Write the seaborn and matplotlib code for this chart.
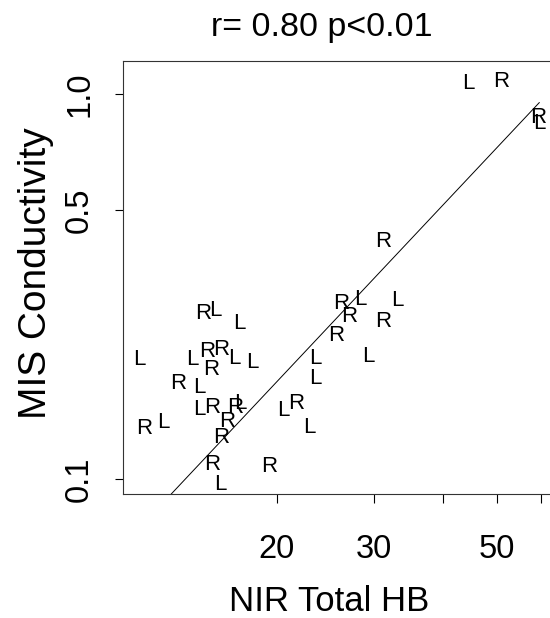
import numpy as np
import pandas as pd
import matplotlib
matplotlib.use("Agg")
import matplotlib.pyplot as plt
import seaborn as sns

# data (log-log scatter, letters mark side)
side = ["L", "R", "R", "L", "R", "R", "L", "R", "L", "R",
        "R", "L", "L", "L", "R", "L", "L", "R", "R", "L",
        "L", "L", "L", "R", "R", "L", "R", "L", "R", "L",
        "L", "R", "R", "L", "R", "R", "R", "L", "R", "L"]
nir_hb = [44.4, 51.0, 59.4, 59.7, 31.1, 26.2, 28.3, 27.1, 33.1, 31.1,
          25.6, 29.3, 23.5, 23.5, 21.7, 20.6, 22.9, 19.4, 14.7, 15.5,
          17.1, 11.3, 14.1, 15.0, 15.9, 16.8, 15.2, 18.1, 13.3, 14.5,
          14.5, 15.3, 16.8, 17.2, 16.3, 15.9, 11.5, 12.5, 15.3, 15.8]
mis_cond = [1.068, 1.078, 0.871, 0.841, 0.414, 0.286, 0.293, 0.265, 0.291, 0.256,
            0.236, 0.208, 0.206, 0.182, 0.157, 0.151, 0.136, 0.108, 0.270, 0.274,
            0.254, 0.204, 0.204, 0.214, 0.217, 0.206, 0.193, 0.201, 0.177, 0.173,
            0.152, 0.153, 0.153, 0.157, 0.141, 0.128, 0.135, 0.140, 0.109, 0.097]

# fitted line in log10 space: log10(y) = fit_intercept + fit_slope * log10(x)
fit_intercept = -2.737
fit_slope = 1.529

x_ticks = [20, 30, 40, 50, 60]
x_ticklabels = ["20", "30", "", "50", ""]
y_ticks = [0.1, 0.5, 1.0]
y_ticklabels = ["0.1", "0.5", "1.0"]

df = pd.DataFrame({"side": side, "nir": nir_hb, "mis": mis_cond})

sns.set_style("white")
plt.rcParams["font.family"] = ["Liberation Sans", "DejaVu Sans"]
plt.rcParams["text.color"] = "black"

fig = plt.figure(figsize=(5.5, 6.18), dpi=100)
ax = fig.add_axes([123 / 550, 124 / 618, 427 / 550, 433 / 618])

# regression line over the data range
xs = np.array([df["nir"].min(), df["nir"].max()])
line = pd.DataFrame({"x": xs, "y": 10 ** (fit_intercept + fit_slope * np.log10(xs))})
sns.lineplot(data=line, x="x", y="y", color="black", linewidth=0.7, ax=ax)

ax.set_xscale("log")
ax.set_yscale("log")
ax.set_xlim(10.55, 62.4)
ax.set_ylim(0.0914, 1.22)

# letters as plotting symbols, like text() in the original
for _, r in df.iterrows():
    ax.text(r["nir"], r["mis"], r["side"], ha="center", va="center",
            fontsize=16, color="black")

ax.set_xticks(x_ticks)
ax.set_xticklabels(x_ticklabels)
ax.set_yticks(y_ticks)
ax.set_yticklabels(y_ticklabels, rotation=90, va="center")
ax.minorticks_off()
ax.tick_params(axis="x", direction="out", length=6.5, width=0.8, pad=22,
               labelsize=23.5, bottom=True, colors="black")
ax.tick_params(axis="y", direction="out", length=6, width=0.8, pad=14,
               labelsize=23.5, left=True, colors="black")
ax.set_xlabel("")
ax.set_ylabel("")

for s in ["left", "bottom", "top"]:
    ax.spines[s].set_color("#333333")
    ax.spines[s].set_linewidth(0.8)
ax.spines["right"].set_visible(False)

fig.text(322 / 550, 1 - 36 / 618, "r= 0.80 p<0.01", ha="center", va="baseline", fontsize=24.5)
fig.text(329 / 550, 7 / 618, "NIR Total HB", ha="center", va="baseline", fontsize=25)
fig.text(36 / 550, 1 - 273 / 618, "MIS Conductivity", ha="center", va="center",
         rotation=90, fontsize=28)

fig.savefig("out.png", dpi=100)
